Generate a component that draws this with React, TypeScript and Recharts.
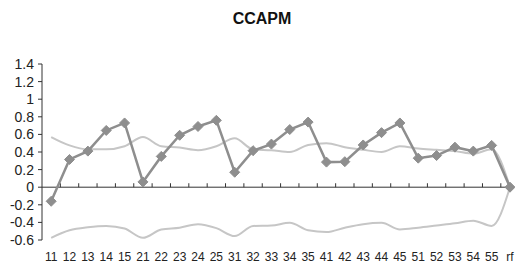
import React from 'react';
import {
  LineChart,
  Line,
  XAxis,
  YAxis,
  ReferenceLine,
} from 'recharts';

const categories = [
  '11', '12', '13', '14', '15',
  '21', '22', '23', '24', '25',
  '31', '32', '33', '34', '35',
  '41', '42', '43', '44', '45',
  '51', '52', '53', '54', '55',
  'rf',
];

// dark series with diamond markers
const ccapm = [
  -0.16, 0.315, 0.41, 0.645, 0.73,
  0.06, 0.35, 0.59, 0.69, 0.76,
  0.17, 0.415, 0.49, 0.655, 0.74,
  0.285, 0.29, 0.48, 0.62, 0.73,
  0.33, 0.36, 0.455, 0.41, 0.475,
  0,
];

// light grey upper band
const upper = [
  0.57, 0.475, 0.43, 0.43, 0.465,
  0.57, 0.465, 0.45, 0.42, 0.465,
  0.555, 0.43, 0.42, 0.4, 0.48,
  0.5, 0.455, 0.425, 0.4, 0.465,
  0.44, 0.425, 0.41, 0.38, 0.43,
  0,
];

// light grey lower band
const lower = [
  -0.575, -0.49, -0.455, -0.44, -0.47,
  -0.575, -0.48, -0.46, -0.42, -0.465,
  -0.555, -0.44, -0.435, -0.405, -0.49,
  -0.51, -0.46, -0.42, -0.405, -0.48,
  -0.46, -0.435, -0.41, -0.38, -0.44,
  0,
];

const yTicks = [-0.6, -0.4, -0.2, 0, 0.2, 0.4, 0.6, 0.8, 1, 1.2, 1.4];

const data = categories.map((c, i) => ({
  idx: i,
  name: c,
  ccapm: ccapm[i],
  upper: upper[i],
  lower: lower[i],
}));

const font = 'Arial, "Liberation Sans", sans-serif';

const Diamond = (props: any) => {
  const { cx, cy, index } = props;
  if (cx == null || cy == null) return <g key={index} />;
  const r = 5;
  return (
    <path
      key={index}
      d={`M${cx},${cy - r}L${cx + r},${cy}L${cx},${cy + r}L${cx - r},${cy}Z`}
      fill="#8e8e8e"
      stroke="#8e8e8e"
    />
  );
};

export default function App() {
  return (
    <div style={{ position: 'absolute', left: 0, top: 0, width: 515, height: 263, background: '#fff' }}>
      <div
        style={{
          position: 'absolute',
          left: 0,
          top: 10,
          width: 524,
          textAlign: 'center',
          fontFamily: font,
          fontWeight: 'bold',
          fontSize: 16,
          color: '#111',
        }}
      >
        CCAPM
      </div>
      <LineChart
        width={515}
        height={263}
        data={data}
        margin={{ top: 64, right: 5, bottom: 0, left: 0 }}
      >
        <XAxis
          dataKey="idx"
          type="number"
          domain={[-0.5, 25]}
          ticks={categories.map((_, i) => i)}
          interval={0}
          tickFormatter={(v: number) => categories[v]}
          axisLine={false}
          tickLine={false}
          height={23}
          tickMargin={6}
          tick={{ fill: '#222', fontSize: 12, fontFamily: font }}
        />
        <YAxis
          domain={[-0.6, 1.4]}
          ticks={yTicks}
          interval={0}
          width={42}
          tickFormatter={(v: number) => String(v)}
          axisLine={{ stroke: '#333' }}
          tickLine={{ stroke: '#333' }}
          tickSize={4}
          tickMargin={4}
          tick={{ fill: '#222', fontSize: 14, fontFamily: font }}
        />
        <ReferenceLine y={0} stroke="#333" />
        {categories.slice(0, -1).map((_, i) => (
          <ReferenceLine
            key={`t${i}`}
            segment={[{ x: i + 0.5, y: 0 }, { x: i + 0.5, y: 0.045 }]}
            stroke="#333"
          />
        ))}
        <Line
          type="monotone"
          dataKey="upper"
          stroke="#c6c6c6"
          strokeWidth={2}
          dot={false}
          isAnimationActive={false}
        />
        <Line
          type="monotone"
          dataKey="lower"
          stroke="#c6c6c6"
          strokeWidth={2}
          dot={false}
          isAnimationActive={false}
        />
        <Line
          type="linear"
          dataKey="ccapm"
          stroke="#8e8e8e"
          strokeWidth={2.5}
          dot={<Diamond />}
          isAnimationActive={false}
        />
      </LineChart>
    </div>
  );
}
